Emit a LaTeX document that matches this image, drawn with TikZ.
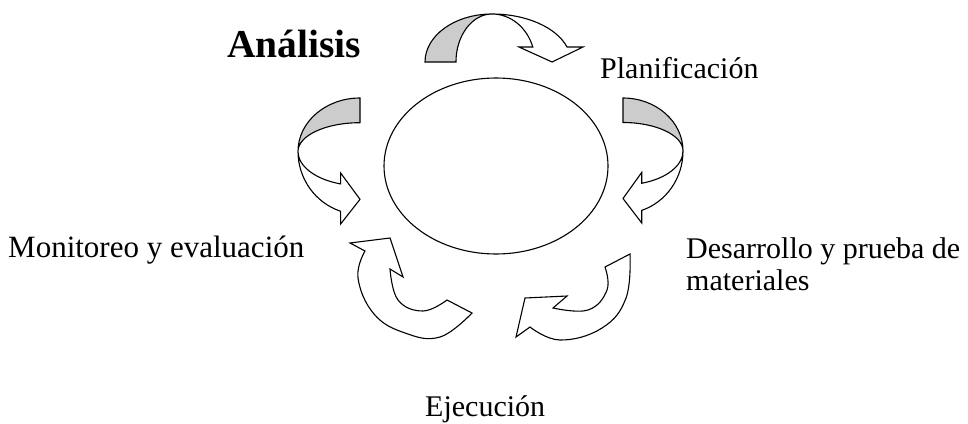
\documentclass[tikz,border=0pt]{standalone}
\usepackage{fontspec}
\setmainfont{Liberation Serif}
\begin{document}
\begin{tikzpicture}[x=1pt,y=-1pt,line join=miter,
  outl/.style={draw=black,line width=1.1pt},
  lbl/.style={inner sep=0pt,anchor=base west,font=\fontsize{30}{34}\selectfont}]
\useasboundingbox (0,0) rectangle (968,423);
\newcommand\cvarrow{%
 \filldraw[outl,fill=black!20] (0,0) arc[start angle=180,end angle=90,x radius=0.424,y radius=1]
   arc[start angle=90,end angle=180,x radius=0.228,y radius=1] -- cycle;
 \filldraw[outl,fill=white] (0.424,1) arc[start angle=90,end angle=18.2,x radius=0.5,y radius=1]
   -- (1,0.3125) -- (0.804,0) -- (0.595,0.3125) -- (0.682,0.3125)
   arc[start angle=18.2,end angle=90,x radius=0.272,y radius=1] -- cycle;}
% ellipse
\draw[outl] (496,166) ellipse[x radius=112pt,y radius=88pt];
% top arrow
\begin{scope}[shift={(425pt,-62pt)},x={(158pt,0pt)},y={(0pt,48pt)}]\cvarrow\end{scope}
% right arrow
\begin{scope}[shift={(623pt,-98pt)},x={(0pt,-125pt)},y={(60pt,0pt)}]\cvarrow\end{scope}
% left arrow
\begin{scope}[shift={(360pt,-98pt)},x={(0pt,-126pt)},y={(-62pt,0pt)}]\cvarrow\end{scope}
% bottom-left arrow
\filldraw[outl,fill=white] plot[smooth,tension=0.7] coordinates {(447,300) (423,311) (398,300) (390,269)}
  -- (403,277) -- (390,238) -- (350,243) --
  plot[smooth,tension=0.7] coordinates {(365,251) (358,278) (374,314) (405,333) (440,337) (472,313)} -- cycle;
% bottom-right arrow
\filldraw[outl,fill=white] plot[smooth,tension=0.7] coordinates {(605,267) (607,290) (588,310) (553,308)}
  -- (567,296) -- (525,298) -- (516,337) --
  plot[smooth,tension=0.7] coordinates {(530,327) (560,340) (602,328) (626,298) (630,254)} -- cycle;
% labels
\node[inner sep=0pt,anchor=base west,font=\fontsize{39.5}{43}\selectfont\bfseries] (ana) at (227,57) {Análisis};
\node[lbl] (pla) at (600,78) {Planificación};
\node[lbl,font=\fontsize{31}{35}\selectfont] (mon) at (8,257) {Monitoreo y evaluación};
\node[lbl] (des) at (686,258) {Desarrollo y prueba de};
\node[lbl] (mat) at (686,290) {materiales};
\node[lbl] (eje) at (425,416) {Ejecución};
\end{tikzpicture}
\end{document}
